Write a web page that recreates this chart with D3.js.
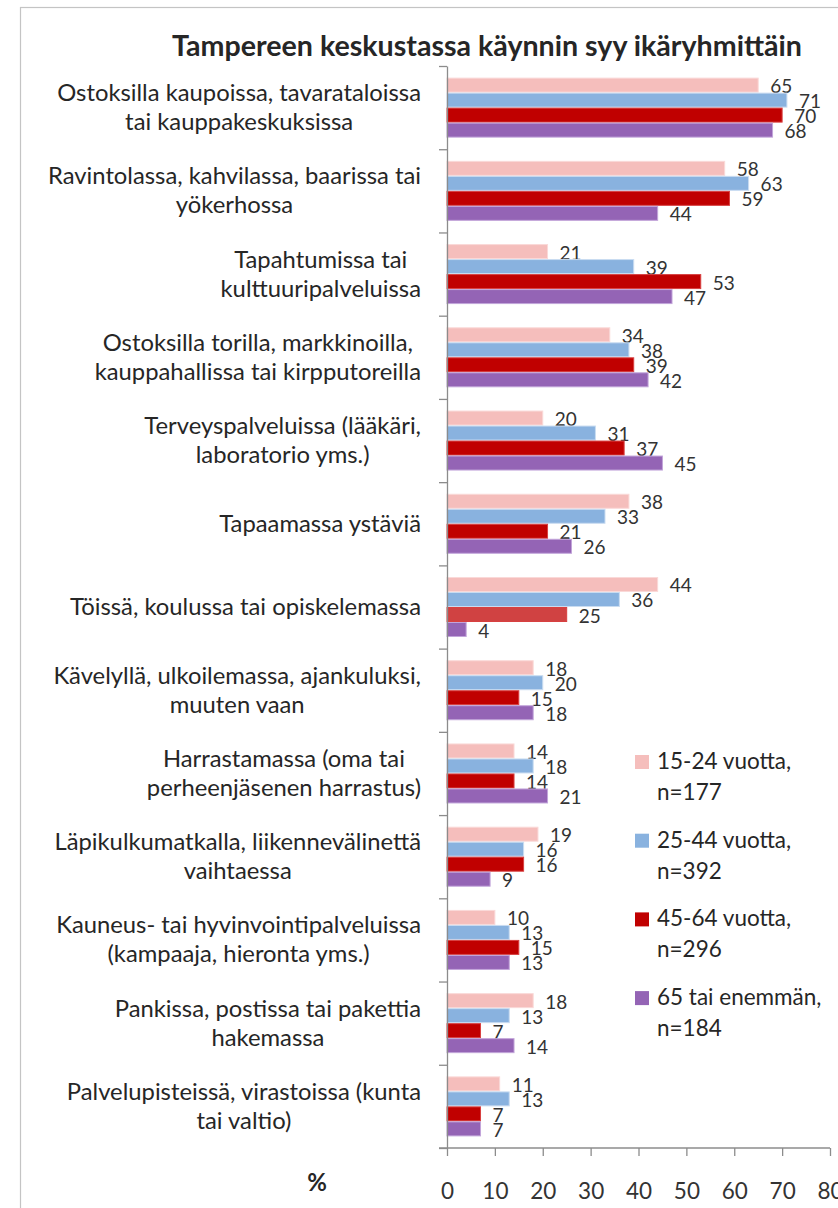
<!DOCTYPE html>
<html><head><meta charset="utf-8">
<script src="https://cdn.jsdelivr.net/npm/d3@7"></script>
<style>body{margin:0;background:#fff}svg{display:block}text{font-family:Lato,"Noto Sans",sans-serif}</style>
</head><body><svg id="c" width="838" height="1208"></svg>
<script>
const title = "Tampereen keskustassa käynnin syy ikäryhmittäin";
const categories = [
  ["Ostoksilla kaupoissa, tavarataloissa", "tai kauppakeskuksissa"],
  ["Ravintolassa, kahvilassa, baarissa tai", "yökerhossa"],
  ["Tapahtumissa tai", "kulttuuripalveluissa"],
  ["Ostoksilla torilla, markkinoilla,", "kauppahallissa tai kirpputoreilla"],
  ["Terveyspalveluissa (lääkäri,", "laboratorio yms.)"],
  ["Tapaamassa ystäviä"],
  ["Töissä, koulussa tai opiskelemassa"],
  ["Kävelyllä, ulkoilemassa, ajankuluksi,", "muuten vaan"],
  ["Harrastamassa (oma tai", "perheenjäsenen harrastus)"],
  ["Läpikulkumatkalla, liikennevälinettä", "vaihtaessa"],
  ["Kauneus- tai hyvinvointipalveluissa", "(kampaaja, hieronta yms.)"],
  ["Pankissa, postissa tai pakettia", "hakemassa"],
  ["Palvelupisteissä, virastoissa (kunta", "tai valtio)"]
];
const seriesNames = [["15-24 vuotta,", "n=177"], ["25-44 vuotta,", "n=392"], ["45-64 vuotta,", "n=296"], ["65 tai enemmän,", "n=184"]];
const age15_24 = [65, 58, 21, 34, 20, 38, 44, 18, 14, 19, 10, 18, 11];
const age25_44 = [71, 63, 39, 38, 31, 33, 36, 20, 18, 16, 13, 13, 13];
const age45_64 = [70, 59, 53, 39, 37, 21, 25, 15, 14, 16, 15, 7, 7];
const age65plus = [68, 44, 47, 42, 45, 26, 4, 18, 21, 9, 13, 14, 7];
const xTicks = [0, 10, 20, 30, 40, 50, 60, 70, 80];
const axisUnit = "%";

const series = [age15_24, age25_44, age45_64, age65plus];
const colors = ["#F5BEBC", "#89B2DF", "#C00000", "#9464B5"];
const strokes = ["#FAD9D8", "#C9DCF1", "#D84040", "#C2A5DA"];
// one bar drawn in a lighter red in the original (category 7, series 3)
const specialFill = {cat: 6, ser: 2, fill: "#D04242"};

const svg = d3.select("#c");
svg.append("rect").attr("width", 838).attr("height", 1208).attr("fill", "#fff");
svg.append("rect").attr("x", 20.5).attr("y", 7.5).attr("width", 840).attr("height", 1220)
  .attr("fill", "none").attr("stroke", "#c4c4c4").attr("stroke-width", 1.2);

const x = d3.scaleLinear().domain([0, 80]).range([447, 830]);
const y = d3.scaleBand().domain(d3.range(categories.length)).range([66, 1148]).paddingInner(0.279).paddingOuter(0.1395);
const yInner = d3.scaleBand().domain(d3.range(series.length)).range([0, y.bandwidth()]);
const yEdge = d3.scaleLinear().domain([0, categories.length]).range([66, 1148]);

svg.append("text").attr("x", 487).attr("y", 56).attr("text-anchor", "middle")
  .attr("font-weight", "bold").attr("font-size", 28.6).attr("fill", "#262626").text(title);

// bars
const g = svg.append("g");
categories.forEach((c, ci) => {
  series.forEach((s, si) => {
    const v = s[ci];
    const by = y(ci) + yInner(si);
    const fill = (ci === specialFill.cat && si === specialFill.ser) ? specialFill.fill : colors[si];
    g.append("rect").attr("x", x(0)).attr("y", by + 0.5).attr("width", x(v) - x(0)).attr("height", yInner.bandwidth() - 1)
      .attr("fill", fill).attr("stroke", strokes[si]).attr("stroke-width", 1);
    g.append("text").attr("x", x(v) + 12).attr("y", by + yInner.bandwidth() / 2 + 8)
      .attr("font-size", 19).attr("fill", "#333").text(v);
  });
});

// left axis (category boundaries)
const la = svg.append("g").attr("transform", `translate(${x(0)},0)`)
  .call(d3.axisLeft(yEdge).tickValues(d3.range(categories.length + 1)).tickFormat("").tickSizeInner(8).tickSizeOuter(0));
la.select(".domain").attr("stroke", "#8c8c8c").attr("stroke-width", 1.3);
la.selectAll(".tick line").attr("stroke", "#8c8c8c").attr("stroke-width", 1.3);

// bottom axis
const ba = svg.append("g").attr("transform", `translate(0,1148)`)
  .call(d3.axisBottom(x).tickValues(xTicks).tickSizeInner(8).tickSizeOuter(0).tickPadding(27));
ba.select(".domain").attr("stroke", "#8c8c8c").attr("stroke-width", 1.3).attr("d", `M439,0H${x(80)}`);
ba.selectAll(".tick line").attr("stroke", "#8c8c8c").attr("stroke-width", 1.3);
ba.selectAll(".tick text").attr("font-size", 22.5).attr("fill", "#333").attr("font-family", "Lato");
svg.append("text").attr("x", 317).attr("y", 1191).attr("text-anchor", "middle")
  .attr("font-weight", "bold").attr("font-size", 24).attr("fill", "#262626").text(axisUnit);

// category labels
const lineH = 29;
categories.forEach((lines, ci) => {
  const cy = y(ci) + y.bandwidth() / 2;
  const tg = svg.append("g");
  const n = lines.length;
  const ts = lines.map((l, li) => tg.append("text").attr("font-size", 23.8).attr("fill", "#262626")
    .attr("text-anchor", "middle")
    .attr("y", cy + 8 + (li - (n - 1) / 2) * lineH).text(l));
  const w = d3.max(ts, t => t.node().getComputedTextLength());
  ts.forEach(t => t.attr("x", 421 - w / 2));
});

// legend
seriesNames.forEach((nm, i) => {
  const by = 769 + i * 78.7;
  svg.append("rect").attr("x", 635).attr("y", by - 14).attr("width", 14).attr("height", 14).attr("fill", colors[i]);
  nm.forEach((l, li) => svg.append("text").attr("x", 657).attr("y", by + li * 31)
    .attr("font-size", 22.5).attr("fill", "#262626").text(l));
});
</script></body></html>
